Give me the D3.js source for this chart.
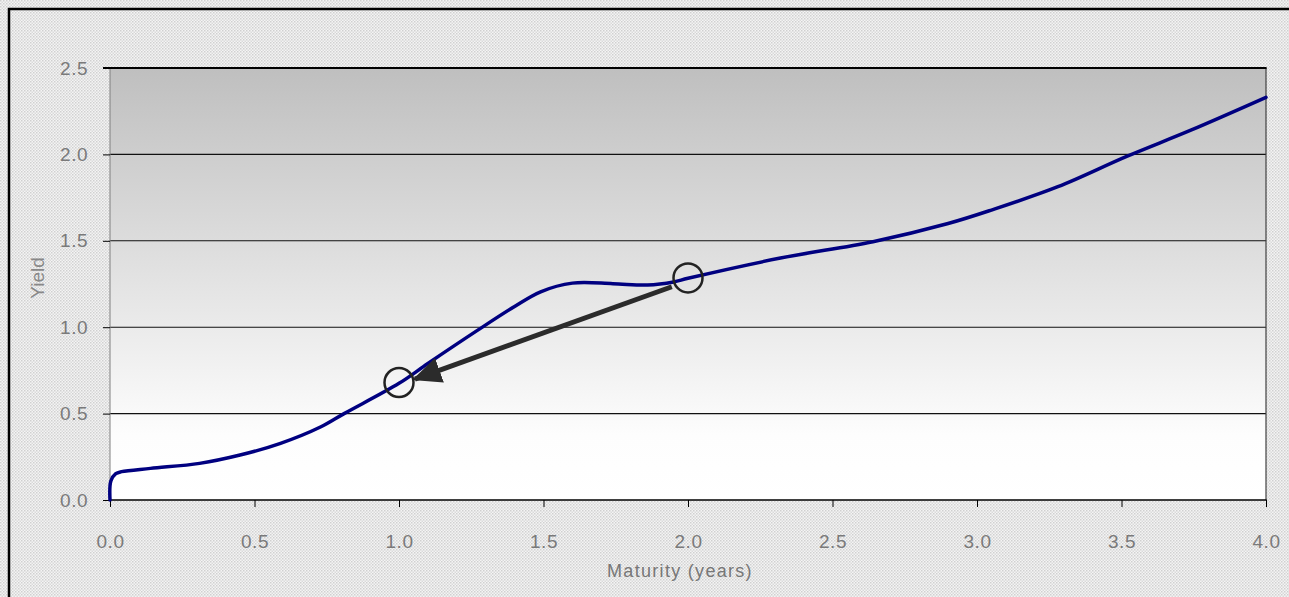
<!DOCTYPE html>
<html><head><meta charset="utf-8">
<script src="https://cdn.jsdelivr.net/npm/d3@7/dist/d3.min.js"></script>
<style>html,body{margin:0;padding:0;background:#fff;overflow:hidden}</style>
</head><body>
<svg id="chart" width="1289" height="597"></svg>
<script>
const maturity = [0, 0.003, 0.02, 0.04, 0.14, 0.31, 0.45, 0.59, 0.73, 0.81, 1.0, 1.1, 1.27, 1.4, 1.49, 1.6, 1.74, 1.86, 1.95, 2.0, 2.32, 2.64, 2.9, 3.05, 3.28, 3.52, 3.74, 4.0];
const yieldVals = [0, 0.11, 0.152, 0.164, 0.183, 0.212, 0.26, 0.328, 0.424, 0.5, 0.675, 0.79, 0.98, 1.12, 1.205, 1.255, 1.252, 1.244, 1.262, 1.283, 1.40, 1.495, 1.60, 1.678, 1.813, 1.99, 2.14, 2.33];
const xTicks = [0, 0.5, 1.0, 1.5, 2.0, 2.5, 3.0, 3.5, 4.0];
const yTicks = [0, 0.5, 1.0, 1.5, 2.0, 2.5];
const circlePts = [[1.0, 0.68], [2.0, 1.285]];
const arrowFrom = [1.944, 1.234];
const arrowTo = [1.055, 0.70];

const svg = d3.select("#chart");
const L = 110, R = 1266, T = 68, B = 500;
const x = d3.scaleLinear().domain([0, 4]).range([L, R]);
const y = d3.scaleLinear().domain([0, 2.5]).range([B, T]);
const FONT = "Liberation Sans, Arial, sans-serif";

const defs = svg.append("defs");
const pat = defs.append("pattern").attr("id", "dots").attr("width", 3).attr("height", 3).attr("patternUnits", "userSpaceOnUse");
pat.append("rect").attr("width", 3).attr("height", 3).attr("fill", "#f4f4f4");
pat.append("rect").attr("width", 1.5).attr("height", 1.5).attr("fill", "#d0d0d0");
pat.append("rect").attr("x", 1.5).attr("y", 1.5).attr("width", 1.5).attr("height", 1.5).attr("fill", "#dadada");
const grad = defs.append("linearGradient").attr("id", "bg").attr("x1", 0).attr("y1", 0).attr("x2", 0).attr("y2", 1);
grad.append("stop").attr("offset", "0%").attr("stop-color", "#bfbfbf");
grad.append("stop").attr("offset", "85%").attr("stop-color", "#fdfdfd");
grad.append("stop").attr("offset", "100%").attr("stop-color", "#ffffff");
const mk = defs.append("marker").attr("id", "arrow").attr("viewBox", "0 0 10 10").attr("refX", 9).attr("refY", 5)
  .attr("preserveAspectRatio", "none")
  .attr("markerWidth", 5.8).attr("markerHeight", 5.2).attr("markerUnits", "strokeWidth").attr("orient", "auto");
mk.append("path").attr("d", "M0,0 L10,5 L0,10 Z").attr("fill", "#2b2b2b");

svg.append("rect").attr("width", 1289).attr("height", 597).attr("fill", "url(#dots)");
svg.append("rect").attr("x", 9).attr("y", 9).attr("width", 1300).attr("height", 620)
  .attr("fill", "none").attr("stroke", "#000").attr("stroke-width", 2.5);

svg.append("rect").attr("x", L).attr("y", T).attr("width", R - L).attr("height", B - T).attr("fill", "url(#bg)");

// gridlines
svg.append("g").selectAll("line").data(yTicks.slice(1, -1)).join("line")
  .attr("x1", L).attr("x2", R).attr("y1", d => y(d)).attr("y2", d => y(d))
  .attr("stroke", "#111").attr("stroke-width", 1.1);

// plot border
svg.append("line").attr("x1", L).attr("x2", L).attr("y1", T).attr("y2", B).attr("stroke", "#808080").attr("stroke-width", 1);
svg.append("line").attr("x1", R).attr("x2", R).attr("y1", T).attr("y2", B).attr("stroke", "#404040").attr("stroke-width", 1.2);
svg.append("line").attr("x1", L - 7).attr("x2", R + 0.6).attr("y1", T).attr("y2", T).attr("stroke", "#000").attr("stroke-width", 2);

// axes
const yAxis = d3.axisLeft(y).tickValues(yTicks).tickSize(7).tickPadding(15).tickFormat(d3.format(".1f"));
const gy = svg.append("g").attr("transform", `translate(${L},0)`).call(yAxis);
gy.select(".domain").remove();
gy.selectAll(".tick line").attr("stroke", "#000");
gy.selectAll(".tick text").attr("fill", "#7a7a7a").style("font-family", FONT).style("font-size", "19px").style("letter-spacing", "0.5px");

const xAxis = d3.axisBottom(x).tickValues(xTicks).tickSize(7).tickPadding(28).tickFormat(d3.format(".1f"));
const gx = svg.append("g").attr("transform", `translate(0,${B})`).call(xAxis);
gx.select(".domain").attr("d", `M${L},0H${R + 0.6}`).attr("stroke", "#000").attr("stroke-width", 1.5);
gx.selectAll(".tick line").attr("stroke", "#000");
gx.selectAll(".tick text").attr("fill", "#7a7a7a").style("font-family", FONT).style("font-size", "19px").style("letter-spacing", "0.5px");

svg.append("text").attr("x", 680).attr("y", 577).attr("text-anchor", "middle")
  .attr("fill", "#777").style("font-family", FONT).style("font-size", "18px").style("letter-spacing", "1.3px")
  .text("Maturity (years)");
svg.append("text").attr("transform", "translate(44,278) rotate(-90)").attr("text-anchor", "middle")
  .attr("fill", "#888").style("font-family", FONT).style("font-size", "19px")
  .text("Yield");

// curve
const data = maturity.map((m, i) => [m, yieldVals[i]]);
const line = d3.line().x(d => x(d[0])).y(d => y(d[1])).curve(d3.curveCatmullRom.alpha(0.5));
svg.append("path").datum(data).attr("d", line).attr("fill", "none")
  .attr("stroke", "#000080").attr("stroke-width", 3.5).attr("stroke-linecap", "round");

// arrow
svg.append("line").attr("x1", x(arrowFrom[0])).attr("y1", y(arrowFrom[1]))
  .attr("x2", x(arrowTo[0])).attr("y2", y(arrowTo[1]))
  .attr("stroke", "#2b2b2b").attr("stroke-width", 5).attr("marker-end", "url(#arrow)");

// circles
svg.append("g").selectAll("circle").data(circlePts).join("circle")
  .attr("cx", d => x(d[0])).attr("cy", d => y(d[1])).attr("r", 14.5)
  .attr("fill", "none").attr("stroke", "#222").attr("stroke-width", 2.5);
</script>
</body></html>
